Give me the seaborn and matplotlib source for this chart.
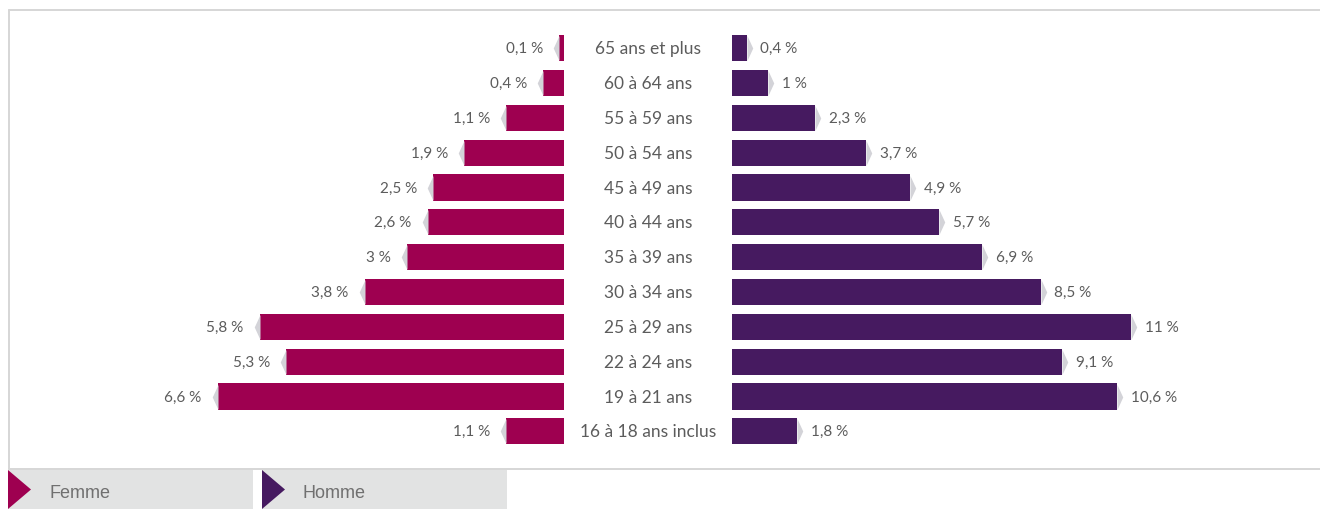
import matplotlib
matplotlib.use("Agg")
import matplotlib.pyplot as plt
from matplotlib.path import Path
from matplotlib.patches import Rectangle, Polygon
from matplotlib.lines import Line2D
from matplotlib.transforms import blended_transform_factory
import pandas as pd
import seaborn as sns

# Age groups, top row first
age_groups = [
    "65 ans et plus", "60 à 64 ans", "55 à 59 ans", "50 à 54 ans",
    "45 à 49 ans", "40 à 44 ans", "35 à 39 ans", "30 à 34 ans",
    "25 à 29 ans", "22 à 24 ans", "19 à 21 ans", "16 à 18 ans inclus",
]
femme = [0.1, 0.4, 1.1, 1.9, 2.5, 2.6, 3.0, 3.8, 5.8, 5.3, 6.6, 1.1]
homme = [0.4, 1.0, 2.3, 3.7, 4.9, 5.7, 6.9, 8.5, 11.0, 9.1, 10.6, 1.8]

FEMME_COLOR = "#9E0050"
HOMME_COLOR = "#461A60"
TIP_COLOR = "#D3D3D8"
TEXT_COLOR = "#5C5C5C"
LEGEND_BG = "#E2E3E3"
FRAME_COLOR = "#D6D6D6"

sns.set_theme(style="white")
plt.rcParams["font.family"] = ["Lato", "DejaVu Sans"]

W, H = 1320, 510
fig = plt.figure(figsize=(W / 100, H / 100), dpi=100)
fig.patch.set_facecolor("white")


def fx(px):
    return px / W


def fy(py):
    return 1 - py / H


df = pd.DataFrame({"age": age_groups, "Femme": femme, "Homme": homme})

# plot area, one row every ~34.8 px
row_top, row_bot = 31.8, 449.8
ax_bottom = fy(row_bot)
ax_height = (row_bot - row_top) / H

left_px0, left_px1 = 20, 564
right_px0, right_px1 = 732, 1310
px_per_pct_left = 52.5
px_per_pct_right = 36.3

axL = fig.add_axes([fx(left_px0), ax_bottom, fx(left_px1 - left_px0), ax_height])
axR = fig.add_axes([fx(right_px0), ax_bottom, fx(right_px1 - right_px0), ax_height])

sns.barplot(data=df, y="age", x="Femme", order=age_groups, orient="h",
            color=FEMME_COLOR, saturation=1, width=0.75, ax=axL)
sns.barplot(data=df, y="age", x="Homme", order=age_groups, orient="h",
            color=HOMME_COLOR, saturation=1, width=0.75, ax=axR)

axL.set_xlim((left_px1 - left_px0) / px_per_pct_left, 0)
axR.set_xlim(0, (right_px1 - right_px0) / px_per_pct_right)

for ax in (axL, axR):
    ax.set_ylim(len(age_groups) - 0.5, -0.5)
    ax.set_axis_off()
    for p in ax.patches:
        p.set_linewidth(0)

# chevron tips at the end of each bar
tip_right = Path([(0, -1), (0.46, 0), (0, 1), (0, -1)],
                 [Path.MOVETO, Path.LINETO, Path.LINETO, Path.CLOSEPOLY])
tip_left = Path([(0, -1), (-0.46, 0), (0, 1), (0, -1)],
                [Path.MOVETO, Path.LINETO, Path.LINETO, Path.CLOSEPOLY])
ms = 25 * 72 / 100
ys = list(range(len(age_groups)))
axL.plot(femme, ys, linestyle="none", marker=tip_left, markersize=ms,
         markerfacecolor=TIP_COLOR, markeredgewidth=0, clip_on=False)
axR.plot(homme, ys, linestyle="none", marker=tip_right, markersize=ms,
         markerfacecolor=TIP_COLOR, markeredgewidth=0, clip_on=False)


def fmt(v):
    return f"{v:g}".replace(".", ",") + " %"


val_kw = dict(fontsize=11, color=TEXT_COLOR, va="center")
for y, v in zip(ys, femme):
    axL.annotate(fmt(v), (v, y), xytext=(-11.5, 0), textcoords="offset points",
                 ha="right", **val_kw)
for y, v in zip(ys, homme):
    axR.annotate(fmt(v), (v, y), xytext=(10, 0), textcoords="offset points",
                 ha="left", **val_kw)

# age group names in the centre column
tr = blended_transform_factory(fig.transFigure, axL.transData)
for y, name in zip(ys, age_groups):
    axL.text(fx(648), y, name, transform=tr, ha="center", va="center",
             fontsize=12.5, color=TEXT_COLOR, clip_on=False)

# frame around the chart area
for xs, yv in (([8.5, W], [10.5, 10.5]), ([8.5, 8.5], [10.5, 470]), ([8.5, W], [470, 470])):
    fig.add_artist(Line2D([fx(x) for x in xs], [fy(y) for y in yv],
                          color=FRAME_COLOR, linewidth=1.4))

# legend
legend_items = [("Femme", FEMME_COLOR, 8), ("Homme", HOMME_COLOR, 262)]
for label, color, x0 in legend_items:
    fig.add_artist(Rectangle((fx(x0), 0), fx(245), fy(471), transform=fig.transFigure,
                             facecolor=LEGEND_BG, edgecolor="none"))
    fig.add_artist(Polygon([(fx(x0), fy(471)), (fx(x0 + 23), fy(490.5)), (fx(x0), fy(510))],
                           closed=True, transform=fig.transFigure,
                           facecolor=color, edgecolor="none"))
    fig.text(fx(x0 + 41), fy(494), label, ha="left", va="center", fontsize=13,
             color="#707070", family=["Liberation Sans", "DejaVu Sans"])

fig.savefig("out.png", dpi=100, facecolor="white")
